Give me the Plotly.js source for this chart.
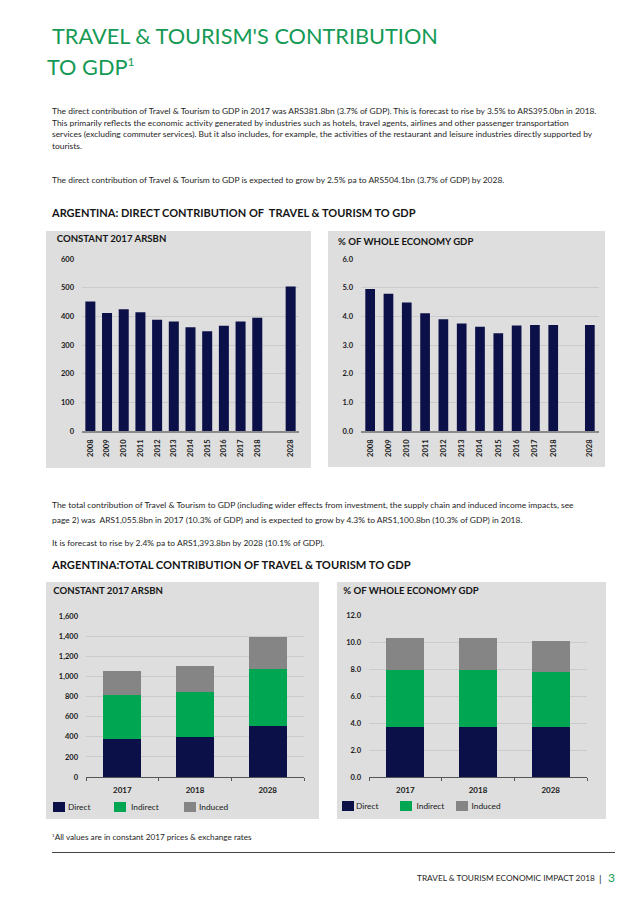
<!DOCTYPE html>
<html><head><meta charset="utf-8">
<script src="https://cdn.plot.ly/plotly-3.0.1.min.js"></script>
<style>
body{margin:0;width:638px;height:903px;position:relative;background:#fff;font-family:Lato,"Open Sans",sans-serif;color:#1e1e1e;overflow:hidden}
.t{position:absolute;white-space:nowrap;line-height:1;transform:translateY(-50%)}
.p{font-size:8px}
.h{color:#159a55;font-size:24px}
.s{font-weight:700;font-size:10.5px;color:#151515}
.panel{position:absolute}
.lg{position:absolute;width:12px;height:10px;transform:translateY(-50%)}
sup{font-size:55%;vertical-align:0;position:relative;top:-0.75em}
</style></head><body>
<div class="t h" id="h1" style="left:52px;top:37px">TRAVEL &amp; TOURISM'S CONTRIBUTION</div>
<div class="t h" id="h2" style="left:47px;top:68px">TO GDP<sup>1</sup></div>

<div class="t p" id="p1a" style="left:52px;top:111px">The direct contribution of Travel &amp; Tourism to GDP in 2017 was ARS381.8bn (3.7% of GDP). This is forecast to rise by 3.5% to ARS395.0bn in 2018.</div>
<div class="t p" style="left:52px;top:122.5px">This primarily reflects the economic activity generated by industries such as hotels, travel agents, airlines and other passenger transportation</div>
<div class="t p" style="left:52px;top:134px">services (excluding commuter services). But it also includes, for example, the activities of the restaurant and leisure industries directly supported by</div>
<div class="t p" style="left:52px;top:145.5px">tourists.</div>
<div class="t p" style="left:52px;top:180px">The direct contribution of Travel &amp; Tourism to GDP is expected to grow by 2.5% pa to ARS504.1bn (3.7% of GDP) by 2028.</div>

<div class="t s" id="s1" style="left:52px;top:213px">ARGENTINA: DIRECT CONTRIBUTION OF &nbsp;TRAVEL &amp; TOURISM TO GDP</div>

<div class="panel" id="c1" style="left:46px;top:231px;width:265px;height:237px"></div>
<div class="panel" id="c2" style="left:328px;top:231px;width:277px;height:236px"></div>

<div class="t p" style="left:52px;top:505px">The total contribution of Travel &amp; Tourism to GDP (including wider effects from investment, the supply chain and induced income impacts, see</div>
<div class="t p" style="left:52px;top:520px">page 2) was &nbsp;ARS1,055.8bn in 2017 (10.3% of GDP) and is expected to grow by 4.3% to ARS1,100.8bn (10.3% of GDP) in 2018.</div>
<div class="t p" style="left:52px;top:543px">It is forecast to rise by 2.4% pa to ARS1,393.8bn by 2028 (10.1% of GDP).</div>

<div class="t s" id="s2" style="left:52px;top:565px">ARGENTINA:TOTAL CONTRIBUTION OF TRAVEL &amp; TOURISM TO GDP</div>

<div class="panel" id="c3" style="left:46px;top:582px;width:273px;height:237px"></div>
<div class="panel" id="c4" style="left:337px;top:582px;width:269px;height:237px"></div>
<div id="legends"></div>

<div class="t" id="fn" style="left:52px;top:837px;font-size:7.5px"><sup>1</sup>All values are in constant 2017 prices &amp; exchange rates</div>
<div style="position:absolute;left:52px;top:852px;width:563px;height:0;border-top:1px solid #444"></div>
<div class="t" id="ft" style="left:417px;top:878px;font-size:8px">TRAVEL &amp; TOURISM ECONOMIC IMPACT 2018</div>
<div class="t" style="left:599px;top:878px;font-size:10px">|</div>
<div class="t" style="left:608px;top:878px;font-size:12px;color:#159a55">3</div>

<script>
// ---- data ----
const years = ['2008','2009','2010','2011','2012','2013','2014','2015','2016','2017','2018','2028'];
const directArsbn = [452, 412, 425, 414, 388, 382, 362, 348, 367, 381.8, 395.0, 504.1];
const directPct = [4.95, 4.79, 4.48, 4.11, 3.90, 3.75, 3.64, 3.41, 3.68, 3.7, 3.7, 3.7];
const yearAxisOrder = ['2008','2009','2010','2011','2012','2013','2014','2015','2016','2017','2018',' ','2028'];

const totalYears = ['2017','2018','2028'];
const seriesNames = ['Direct','Indirect','Induced'];
const totDirectArsbn = [381.8, 395.0, 504.1];
const totIndirectArsbn = [432, 450, 573];
const totInducedArsbn = [242, 255.8, 316.7];
const totDirectPct = [3.7, 3.7, 3.7];
const totIndirectPct = [4.2, 4.25, 4.1];
const totInducedPct = [2.4, 2.35, 2.3];

// ---- text fitting ----
function fit(el, target){
  el.style.fontSize = '20px';
  const w = el.getBoundingClientRect().width;
  return 20*target/w;
}
(function(){
  const h = fit(document.getElementById('h1'), 386);
  document.querySelectorAll('.h').forEach(e=>e.style.fontSize=h+'px');
  const p = fit(document.getElementById('p1a'), 545);
  document.querySelectorAll('.p').forEach(e=>e.style.fontSize=p+'px');
  const s1=document.getElementById('s1'); s1.style.fontSize=fit(s1,364)+'px';
  const s2=document.getElementById('s2'); s2.style.fontSize=fit(s2,359)+'px';
  const fn=document.getElementById('fn'); fn.style.fontSize=fit(fn,200)+'px';
  const ft=document.getElementById('ft'); ft.style.fontSize=fit(ft,178)+'px';
})();

const NAVY='#0b1148', GREEN='#00a651', GREY='#858585', BG='#dedede', GRID='#c6c6c6';
const COLS=[NAVY,GREEN,GREY];
const FONT='Lato, "Open Sans", sans-serif';
const cfg={staticPlot:true, displayModeBar:false};
const tickF={family:FONT,size:7.5,color:'#1a1a1a',weight:700};

// ---- legends (layout positions only) ----
function legend(sq, tx, yc){
  const box=document.getElementById('legends');
  seriesNames.forEach((n,i)=>{
    const s=document.createElement('div'); s.className='lg';
    s.style.left=sq[i]+'px'; s.style.top=yc+'px'; s.style.background=COLS[i]; box.appendChild(s);
    const t=document.createElement('div'); t.className='t';
    t.style.left=tx[i]+'px'; t.style.top=yc+'px'; t.style.fontSize='8.3px'; t.style.color='#1a1a1a';
    t.textContent=n; box.appendChild(t);
  });
}
legend([53,114,184],[68,131,199],806.5);
legend([342,400,456],[356,416.5,471.5],805.5);

function titleObj(text, W, H, dx, dy){
  return {text:text, font:{family:FONT,size:9.6,color:'#151515',weight:700},
    xref:'container', yref:'container', x:dx/W, y:1-dy/H, xanchor:'left', yanchor:'middle'};
}

function topChart(id, vals, W, H, m, title, tdx, tdy, yr, dt, fmt, gap){
  Plotly.newPlot(id, [{type:'bar', x:years, y:vals, marker:{color:NAVY}, hoverinfo:'none'}], {
    width:W, height:H, margin:m, paper_bgcolor:BG, plot_bgcolor:BG, showlegend:false,
    bargap:gap, font:{family:FONT},
    title:titleObj(title, W, H, tdx, tdy),
    xaxis:{type:'category', categoryorder:'array', categoryarray:yearAxisOrder, range:[-0.5,12.5],
      showline:true, linecolor:'#8a8a8a', linewidth:1.5, ticks:'', tickangle:-90,
      tickfont:tickF, showgrid:false, zeroline:false, ticklabelstandoff:4},
    yaxis:{range:yr, dtick:dt, tickformat:fmt, showline:false, showgrid:true, gridcolor:GRID, gridwidth:0.8,
      zeroline:false, ticks:'', tickfont:tickF, ticklabelstandoff:7}
  }, cfg);
}

function stackChart(id, vals, W, H, m, title, tdx, tdy, yr, dt, fmt){
  const traces = vals.map((v,i)=>({type:'bar', name:seriesNames[i], x:totalYears, y:v,
     marker:{color:COLS[i]}, hoverinfo:'none'}));
  Plotly.newPlot(id, traces, {
    width:W, height:H, margin:m, paper_bgcolor:BG, plot_bgcolor:BG, barmode:'stack', bargap:0.48,
    font:{family:FONT}, title:titleObj(title, W, H, tdx, tdy),
    showlegend:false,
    xaxis:{type:'category', showline:true, linecolor:'#555', linewidth:1, ticks:'outside', tickson:'boundaries',
      ticklen:3, tickcolor:'#555', tickfont:{family:FONT,size:8,color:'#1a1a1a',weight:700}, showgrid:false,
      zeroline:false, ticklabelstandoff:5},
    yaxis:{range:yr, dtick:dt, tickformat:fmt, showline:false, showgrid:true, gridcolor:GRID, gridwidth:0.8,
      zeroline:false, ticks:'', tickfont:tickF, ticklabelstandoff:7}
  }, cfg);
}

topChart('c1', directArsbn, 265, 237, {l:35.6,r:12.3,t:28.3,b:37.3,pad:0}, 'CONSTANT 2017 ARSBN', 10.7, 8, [0,600], 100, 'd', 0.4);
topChart('c2', directPct, 277, 236, {l:32.9,r:6.2,t:28.3,b:36.3,pad:0}, '% OF WHOLE ECONOMY GDP', 10, 10.5, [0,6], 1, '.1f', 0.47);
stackChart('c3', [totDirectArsbn,totIndirectArsbn,totInducedArsbn], 273, 237, {l:40.2,r:15.2,t:33.7,b:42.3,pad:0},
  'CONSTANT 2017 ARSBN', 7.3, 8.5, [0,1600], 200, ',d');
stackChart('c4', [totDirectPct,totIndirectPct,totInducedPct], 269, 237, {l:31.9,r:18.8,t:33,b:42,pad:0},
  '% OF WHOLE ECONOMY GDP', 6.3, 8.5, [0,12], 2, '.1f');
</script>
</body></html>
